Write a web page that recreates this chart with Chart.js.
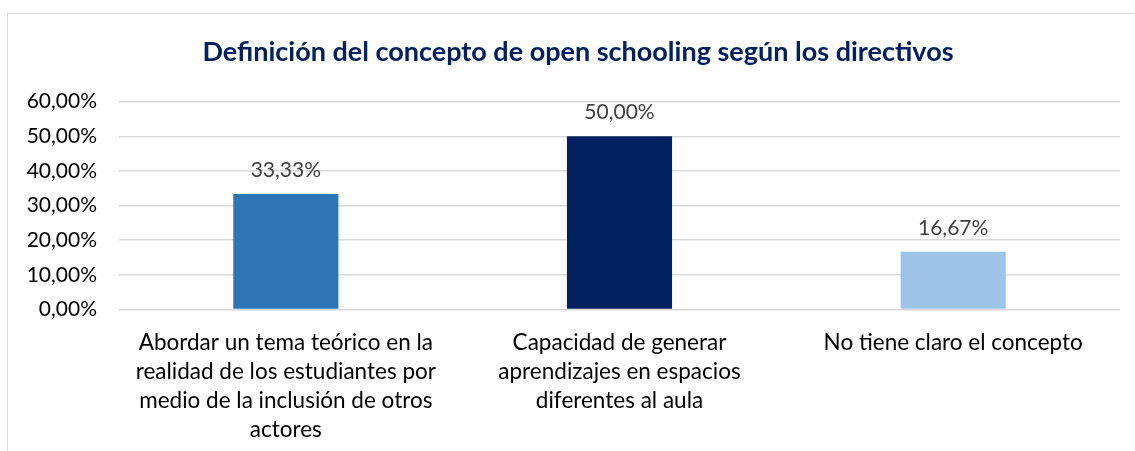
<!DOCTYPE html>
<html>
<head>
<meta charset="utf-8">
<script src="https://cdn.jsdelivr.net/npm/chart.js@4"></script>
<style>
  html, body { margin: 0; padding: 0; background: #fff; overflow: hidden; }
  #wrap { position: relative; width: 1135px; height: 451px; }
  #frame { position: absolute; left: 7px; top: 13px; width: 1200px; height: 500px;
           border-left: 1px solid #d9d9d9; border-top: 1px solid #d9d9d9; box-sizing: border-box; }
  canvas { position: absolute; left: 0; top: 0; }
</style>
</head>
<body>
<div id="wrap">
  <div id="frame"></div>
  <canvas id="c" width="1135" height="451"></canvas>
</div>
<script>
const chartTitle = 'Definición del concepto de open schooling según los directivos';
const categories = [
  ['Abordar un tema teórico en la', 'realidad de los estudiantes por', 'medio de la inclusión de otros', 'actores'],
  ['Capacidad de generar', 'aprendizajes en espacios', 'diferentes al aula'],
  ['No tiene claro el concepto']
];
const values = [0.3333, 0.5000, 0.1667];
const barColors = ['#2E75B6', '#002060', '#9DC3E6'];
const yTicks = [0, 0.1, 0.2, 0.3, 0.4, 0.5, 0.6];

const fmt = v => (v * 100).toFixed(2).replace('.', ',') + '%';
const FONT = 'Lato, "Open Sans", sans-serif';

const valueLabels = {
  id: 'valueLabels',
  afterLayout(chart) {
    // the original chart frame is wider than the picture; centre the title on it
    const tb = chart.titleBlock;
    if (tb) { tb.left = 36; tb.width = tb.right - tb.left; }
  },
  afterDatasetsDraw(chart) {
    const ctx = chart.ctx;
    const meta = chart.getDatasetMeta(0);
    ctx.save();
    ctx.font = '21px ' + FONT;
    ctx.fillStyle = '#404040';
    ctx.textAlign = 'center';
    ctx.textBaseline = 'middle';
    meta.data.forEach((bar, i) => {
      ctx.fillText(fmt(values[i]), bar.x, bar.y - 24);
    });
    ctx.restore();
  }
};

new Chart(document.getElementById('c'), {
  type: 'bar',
  data: {
    labels: categories,
    datasets: [{
      data: values,
      backgroundColor: barColors,
      borderWidth: 0,
      barPercentage: 0.315,
      categoryPercentage: 1.0
    }]
  },
  options: {
    responsive: false,
    animation: false,
    layout: { padding: { left: 0, right: 15, top: 13, bottom: 0 } },
    plugins: {
      legend: { display: false },
      tooltip: { enabled: false },
      title: {
        display: true,
        text: chartTitle,
        color: '#002060',
        font: { family: FONT, size: 27, weight: 'bold', lineHeight: 1.2 },
        padding: { top: 22.8, bottom: 33.5 }
      }
    },
    scales: {
      x: {
        grid: { display: false, drawTicks: false },
        border: { display: false },
        ticks: {
          color: '#000',
          font: { family: FONT, size: 22.5, lineHeight: 1.29 },
          padding: 19,
          maxRotation: 0,
          autoSkip: false
        },
        afterFit(scale) { scale.height = 141.5; }
      },
      y: {
        min: 0,
        max: 0.6,
        afterBuildTicks(scale) { scale.ticks = yTicks.map(v => ({ value: v })); },
        grid: { color: '#d9d9d9', lineWidth: 1.5, drawTicks: false },
        border: { display: false },
        ticks: {
          color: '#000',
          font: { family: FONT, size: 21 },
          padding: 22,
          callback: v => fmt(v)
        },
        afterFit(scale) { scale.width = 119; }
      }
    }
  },
  plugins: [valueLabels]
});
</script>
</body>
</html>
